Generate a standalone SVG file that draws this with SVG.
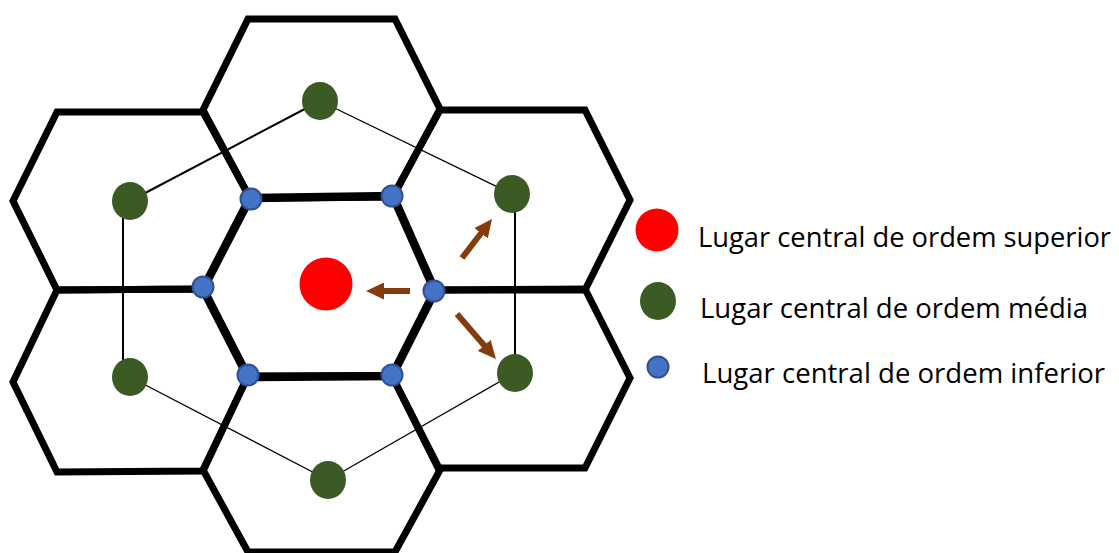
<svg xmlns="http://www.w3.org/2000/svg" width="1119" height="553" viewBox="0 0 1119 553">
<style>
.hex{fill:none;stroke:#000;stroke-width:7;stroke-linejoin:miter}
.hexc{fill:none;stroke:#000;stroke-width:8.5;stroke-linejoin:miter}
.lk{stroke:#000;fill:none}
.g{fill:#3b5a24}
.b{fill:#4472c4;stroke:#2f528f;stroke-width:2}
.r{fill:#ff0000}
.arr{stroke:#843c0c;stroke-width:6;fill:none;marker-end:url(#ah)}
.lbl{font-family:"Open Sans","Liberation Sans",sans-serif;font-size:27px;fill:#000}
</style>
<defs>
<marker id="ah" markerUnits="userSpaceOnUse" markerWidth="18" markerHeight="17" refX="6" refY="8.5" orient="auto">
<path d="M0,0 L18,8.5 L0,17 z" fill="#843c0c"/>
</marker>
</defs>
<g id="hexagons">
<polygon id="hex-top" class="hex" points="248,19 395,19 440,109 393,197 250,198 203,110"/>
<polygon id="hex-ul" class="hex" points="57,112 203,112 250,198 203,289 57,290 13,201"/>
<polygon id="hex-ur" class="hex" points="393,196 440,110 585,110 630,200 585,290 435,290"/>
<polygon id="hex-ll" class="hex" points="57,290 203,289 248,376 203,471 57,472 13,382"/>
<polygon id="hex-lr" class="hex" points="435,290 585,289 630,378 585,468 438,468 392,376"/>
<polygon id="hex-b" class="hex" points="248,376 392,376 440,470 395,552 248,552 203,470"/>
<polygon id="hex-c" class="hexc" points="250,198 393,196 435,291 392,376 248,377 203,289"/>
</g>
<g id="connectors">
<line class="lk" x1="320" y1="101" x2="130" y2="201" stroke-width="2"/>
<line class="lk" x1="320" y1="101" x2="512" y2="194" stroke-width="1.3"/>
<line class="lk" x1="123" y1="201" x2="123" y2="377" stroke-width="2"/>
<line class="lk" x1="130" y1="377" x2="328" y2="480" stroke-width="1.3"/>
<line class="lk" x1="328" y1="480" x2="515" y2="373" stroke-width="1.3"/>
<line class="lk" x1="515" y1="194" x2="515" y2="373" stroke-width="2"/>
<line class="arr" x1="410" y1="291" x2="378" y2="291"/>
<line class="arr" x1="462" y1="258" x2="484.7" y2="228.5"/>
<line class="arr" x1="457" y1="314" x2="488.1" y2="349.9"/>
</g>
<g id="node-superior"><circle class="r" cx="326" cy="284" r="26.5"/></g>
<g id="node-media-top"><ellipse class="g" cx="320" cy="101" rx="18" ry="19"/></g>
<g id="node-media-ul"><ellipse class="g" cx="130" cy="201" rx="18" ry="19"/></g>
<g id="node-media-ur"><ellipse class="g" cx="512" cy="194" rx="18" ry="19"/></g>
<g id="node-media-ll"><ellipse class="g" cx="130" cy="377" rx="18" ry="19"/></g>
<g id="node-media-lr"><ellipse class="g" cx="515" cy="373" rx="18" ry="19"/></g>
<g id="node-media-b"><ellipse class="g" cx="328" cy="480" rx="18" ry="19"/></g>
<g id="node-inf-1"><circle class="b" cx="251" cy="199" r="10.5"/></g>
<g id="node-inf-2"><circle class="b" cx="392" cy="196" r="10.5"/></g>
<g id="node-inf-3"><circle class="b" cx="434" cy="291" r="10.5"/></g>
<g id="node-inf-4"><circle class="b" cx="203" cy="287" r="10.5"/></g>
<g id="node-inf-5"><circle class="b" cx="248" cy="375" r="10.5"/></g>
<g id="node-inf-6"><circle class="b" cx="392" cy="375" r="10.5"/></g>
<g id="legend">
<circle class="r" cx="657" cy="230" r="21.5"/>
<ellipse class="g" cx="658" cy="301" rx="18" ry="19"/>
<circle class="b" cx="658" cy="367" r="10.5"/>
<text class="lbl" x="698" y="247" textLength="413" lengthAdjust="spacingAndGlyphs">Lugar central de ordem superior</text>
<text class="lbl" x="700" y="318" textLength="388" lengthAdjust="spacingAndGlyphs">Lugar central de ordem média</text>
<text class="lbl" x="702" y="383" textLength="403" lengthAdjust="spacingAndGlyphs">Lugar central de ordem inferior</text>
</g>
</svg>
